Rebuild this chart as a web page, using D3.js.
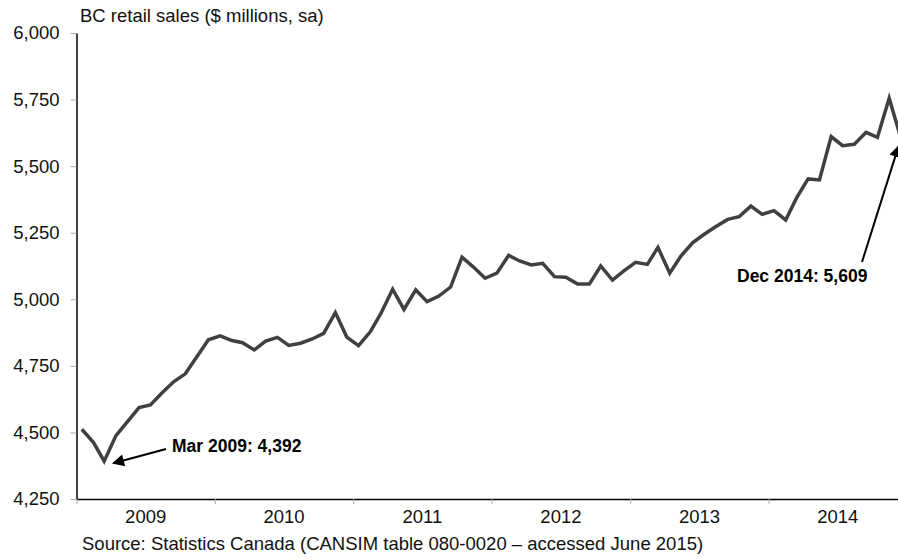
<!DOCTYPE html>
<html>
<head>
<meta charset="UTF-8">
<title>BC retail sales</title>
<script src="https://d3js.org/d3.v7.min.js"></script>
<style>
  body { margin: 0; background: #fff; }
  svg { display: block; font-family: "Liberation Sans", Arial, sans-serif; }
</style>
</head>
<body>
<script>
// monthly BC retail sales, $ millions, seasonally adjusted (Jan 2009 - Dec 2014)
var years = [2009, 2010, 2011, 2012, 2013, 2014];
var sales2009 = [4512, 4462, 4392, 4488, 4540, 4593, 4603, 4649, 4691, 4720, 4785, 4848];
var sales2010 = [4863, 4845, 4837, 4810, 4843, 4857, 4827, 4835, 4851, 4872, 4950, 4858];
var sales2011 = [4826, 4878, 4947, 5038, 4962, 5035, 4991, 5012, 5046, 5158, 5120, 5079];
var sales2012 = [5098, 5165, 5144, 5129, 5135, 5085, 5083, 5057, 5057, 5125, 5072, 5107];
var sales2013 = [5139, 5131, 5195, 5098, 5163, 5213, 5244, 5273, 5300, 5310, 5350, 5319];
var sales2014 = [5333, 5298, 5379, 5452, 5448, 5611, 5577, 5582, 5627, 5608, 5755, 5609];
var yTicks = [4250, 4500, 4750, 5000, 5250, 5500, 5750, 6000];

var annotations = [
  { year: 2009, month: 2, label: "Mar 2009: 4,392" },
  { year: 2014, month: 11, label: "Dec 2014: 5,609" }
];

var allSales = [sales2009, sales2010, sales2011, sales2012, sales2013, sales2014];
var data = [];
years.forEach(function (yr, k) {
  allSales[k].forEach(function (v, m) {
    data.push({ date: new Date(yr, m, 15), value: v, year: yr, month: m });
  });
});

var width = 898, height = 559;
var plotLeft = 76.5, plotRight = 907, plotTop = 33, plotBottom = 499;

var svg = d3.select("body").append("svg")
  .attr("width", width)
  .attr("height", height);

var x = d3.scaleTime()
  .domain([new Date(2009, 0, 1), new Date(2015, 0, 1)])
  .range([plotLeft, plotRight]);

var y = d3.scaleLinear()
  .domain([4250, 6000])
  .range([plotBottom, plotTop]);

// y axis
var yAxis = svg.append("g")
  .attr("transform", "translate(" + plotLeft + ",0)")
  .call(d3.axisLeft(y).tickValues(yTicks).tickFormat(d3.format(",")).tickSize(6).tickSizeOuter(0).tickPadding(11));
yAxis.select(".domain").attr("stroke", "#000").attr("stroke-width", 1.5);
yAxis.selectAll(".tick line").attr("stroke", "#aaa");
yAxis.selectAll(".tick text").attr("font-size", "18.5px").attr("fill", "#111");

// x axis, ticks on year boundaries, labels centred in each year
var yearStarts = years.map(function (yr) { return new Date(yr, 0, 1); });
var xAxis = svg.append("g")
  .attr("transform", "translate(0," + plotBottom + ")")
  .call(d3.axisBottom(x).tickValues(yearStarts).tickFormat("").tickSize(5).tickSizeOuter(0));
xAxis.select(".domain").attr("stroke", "#000").attr("stroke-width", 1.5);
xAxis.selectAll(".tick line").attr("stroke", "#aaa");

svg.selectAll(".year-label")
  .data(years)
  .enter()
  .append("text")
  .attr("class", "year-label")
  .attr("x", function (d) { return (x(new Date(d, 0, 1)) + x(new Date(d + 1, 0, 1))) / 2; })
  .attr("y", 523)
  .attr("text-anchor", "middle")
  .attr("font-size", "18.5px")
  .attr("fill", "#111")
  .text(function (d) { return d; });

// line
var line = d3.line()
  .x(function (d) { return x(d.date); })
  .y(function (d) { return y(d.value); });

svg.append("path")
  .datum(data)
  .attr("fill", "none")
  .attr("stroke", "#404040")
  .attr("stroke-width", 3.5)
  .attr("stroke-linejoin", "miter")
  .attr("d", line);

// title + source
svg.append("text")
  .attr("x", 80)
  .attr("y", 22)
  .attr("font-size", "18.5px")
  .attr("fill", "#111")
  .text("BC retail sales ($ millions, sa)");

svg.append("text")
  .attr("x", 82)
  .attr("y", 550)
  .attr("font-size", "18.5px")
  .attr("fill", "#111")
  .text("Source: Statistics Canada (CANSIM table 080-0020 \u2013 accessed June 2015)");

// annotations with arrows
svg.append("defs").append("marker")
  .attr("id", "arrow")
  .attr("viewBox", "0 0 10 10")
  .attr("refX", 9)
  .attr("refY", 5)
  .attr("markerWidth", 7)
  .attr("markerHeight", 6)
  .attr("orient", "auto")
  .append("path")
  .attr("d", "M0,0 L10,5 L0,10 z")
  .attr("fill", "#000");

var pt = function (a) {
  var d = data.find(function (p) { return p.year === a.year && p.month === a.month; });
  return [x(d.date), y(d.value)];
};

var mar = pt(annotations[0]);
svg.append("line")
  .attr("x1", 166).attr("y1", 449)
  .attr("x2", mar[0] + 9).attr("y2", mar[1] + 2)
  .attr("stroke", "#000").attr("stroke-width", 2)
  .attr("marker-end", "url(#arrow)");
svg.append("text")
  .attr("x", 172).attr("y", 451.5)
  .attr("font-size", "17.5px").attr("font-weight", "bold")
  .text(annotations[0].label);

var dec = pt(annotations[1]);
svg.append("line")
  .attr("x1", 862).attr("y1", 262)
  .attr("x2", dec[0] - 2).attr("y2", dec[1] + 9)
  .attr("stroke", "#000").attr("stroke-width", 2)
  .attr("marker-end", "url(#arrow)");
svg.append("text")
  .attr("x", 737).attr("y", 282)
  .attr("font-size", "17.5px").attr("font-weight", "bold")
  .text(annotations[1].label);
</script>
</body>
</html>
